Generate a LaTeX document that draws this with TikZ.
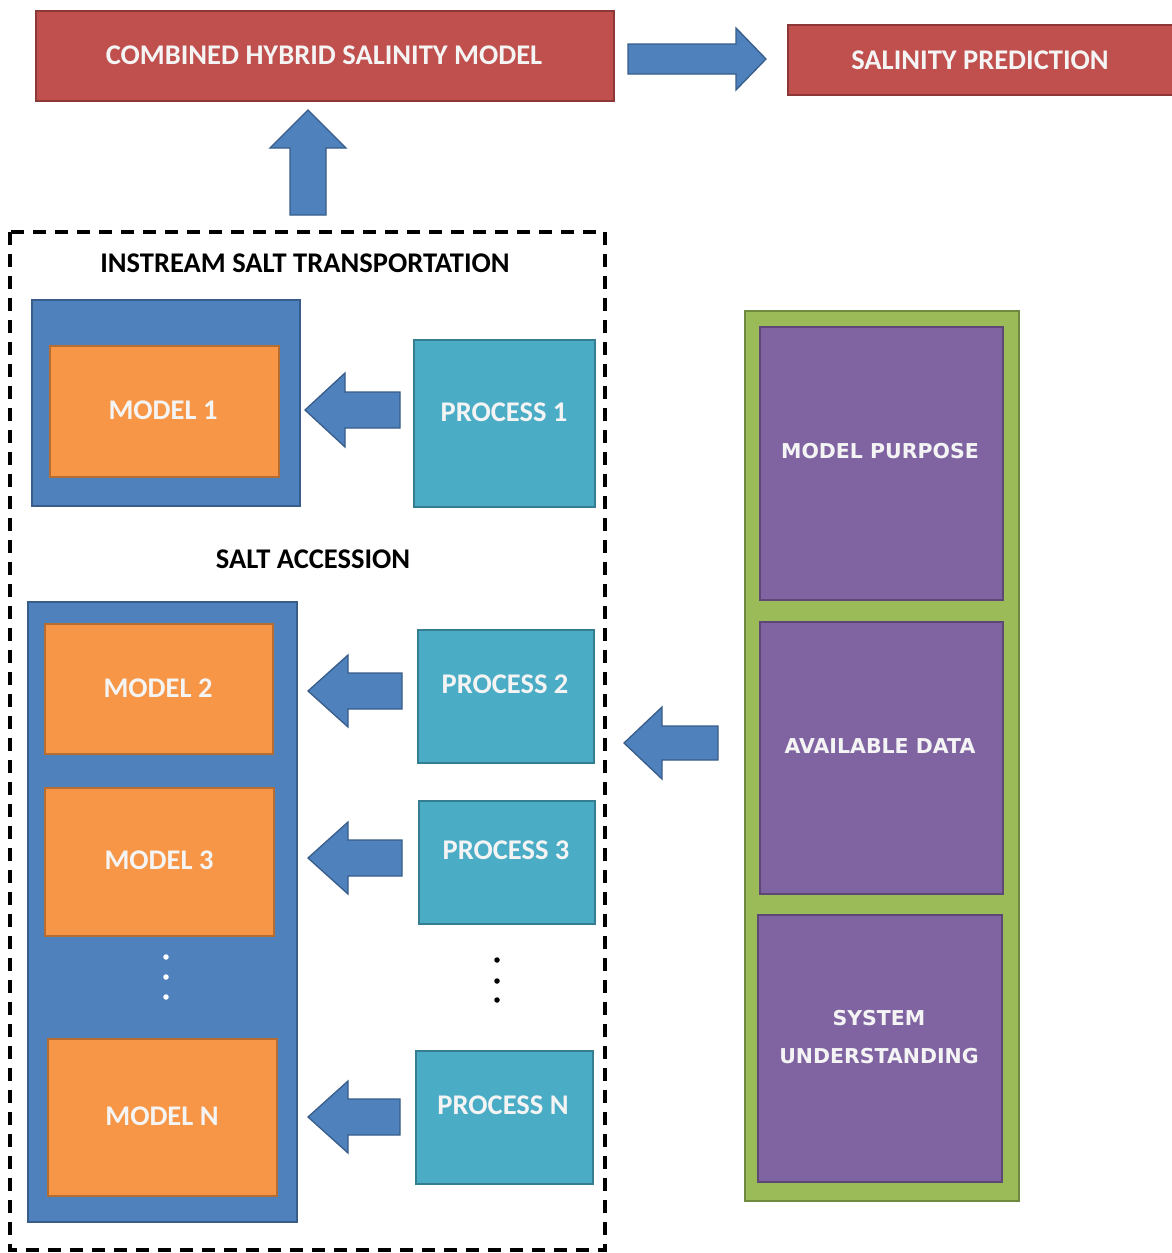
\documentclass[tikz,border=0pt]{standalone}
\usepackage{fontspec}
\setmainfont{Carlito}
\newfontfamily\purplefont{DejaVu Sans}
\definecolor{redf}{HTML}{C0504D}\definecolor{redd}{HTML}{8C3836}
\definecolor{bluef}{HTML}{4F81BD}\definecolor{blued}{HTML}{385D8A}
\definecolor{orf}{HTML}{F79646}\definecolor{ord}{HTML}{B66D31}
\definecolor{aqf}{HTML}{4BACC6}\definecolor{aqd}{HTML}{357D91}
\definecolor{grf}{HTML}{9BBB59}\definecolor{grd}{HTML}{71893F}
\definecolor{puf}{HTML}{8064A2}\definecolor{pud}{HTML}{5C4776}
\definecolor{txtw}{HTML}{F4F4F4}
\newcommand{\mybox}[6]{% style, name, x1,y1,x2,y2
  \node[#1, minimum width={(#5-#3)*1pt}, minimum height={(#6-#4)*1pt}] (#2) at ({(#3+#5)/2},{(#4+#6)/2}) {};}
\newcommand{\arrowleft}[6]{% tipx, y, basex, headhalf, shafthalf, tailx
  \draw[barrow] (#1,#2) -- (#3,#2-#4) -- (#3,#2-#5) -- (#6,#2-#5) -- (#6,#2+#5) -- (#3,#2+#5) -- (#3,#2+#4) -- cycle;}
\begin{document}
\begin{tikzpicture}[x=1pt,y=-1pt,
  bx/.style={rectangle, inner sep=0pt, line width=2.6pt},
  redbox/.style={bx, fill=redf, draw=redd},
  bluebox/.style={bx, fill=bluef, draw=blued},
  orbox/.style={bx, fill=orf, draw=ord},
  aqbox/.style={bx, fill=aqf, draw=aqd},
  grbox/.style={bx, fill=grf, draw=grd},
  pubox/.style={bx, fill=puf, draw=pud},
  wtxt/.style={text=txtw, font=\bfseries\fontsize{28.5}{32}\selectfont, align=center},
  btxt/.style={text=black, font=\bfseries\fontsize{28.5}{32}\selectfont},
  ptxt/.style={text=txtw, font=\purplefont\bfseries\fontsize{20.5}{38}\selectfont, align=center},
  barrow/.style={fill=bluef, draw=blued, line width=1.3pt, line join=miter},
  dot/.style={circle, inner sep=0pt, minimum size=5.5pt}
]
\useasboundingbox (0,0) rectangle (1172,1253);
\fill[white] (0,0) rectangle (1172,1253);

% top boxes
\mybox{redbox}{comb}{36}{11}{614}{101}
\node[wtxt] at (324,55) {COMBINED HYBRID SALINITY MODEL};
\mybox{redbox}{pred}{788}{25}{1185}{95}
\node[wtxt] at (980,60) {SALINITY PREDICTION};

% dashed frame
\draw[line width=3.5pt, dash pattern=on 13pt off 9pt] (10,232) rectangle (605,1250);
\node[btxt] (inst) at (305,263) {INSTREAM SALT TRANSPORTATION};
\node[btxt] (acc) at (313,559) {SALT ACCESSION};

% instream group
\mybox{bluebox}{blue1}{32}{300}{300}{506}
\mybox{orbox}{m1}{50}{346}{279}{477}
\node[wtxt] at (163,410) {MODEL 1};
\mybox{aqbox}{p1}{414}{340}{595}{507}
\node[wtxt] at (504,412) {PROCESS 1};

% accession group
\mybox{bluebox}{blue2}{28}{602}{297}{1222}
\mybox{orbox}{m2}{45}{624}{273}{754}
\node[wtxt] at (158,688) {MODEL 2};
\mybox{orbox}{m3}{45}{788}{274}{936}
\node[wtxt] at (159,860) {MODEL 3};
\mybox{orbox}{mn}{48}{1039}{277}{1196}
\node[wtxt] at (162,1116) {MODEL N};
\node[dot, fill=white] (wd1) at (166,957) {};
\node[dot, fill=white] (wd2) at (166,977) {};
\node[dot, fill=white] (wd3) at (166,997) {};

\mybox{aqbox}{p2}{418}{630}{594}{763}
\node[wtxt] at (505,684) {PROCESS 2};
\mybox{aqbox}{p3}{419}{801}{595}{924}
\node[wtxt] at (506,850) {PROCESS 3};
\mybox{aqbox}{pn}{416}{1051}{593}{1184}
\node[wtxt] at (503,1105) {PROCESS N};
\node[dot, fill=black] (bd1) at (497,960) {};
\node[dot, fill=black] (bd2) at (497,981) {};
\node[dot, fill=black] (bd3) at (497,1000) {};

% green group
\mybox{grbox}{green}{745}{311}{1019}{1201}
\mybox{pubox}{mp}{760}{327}{1003}{600}
\node[ptxt] at (880,451) {MODEL PURPOSE};
\mybox{pubox}{ad}{760}{622}{1003}{894}
\node[ptxt] at (880,746) {AVAILABLE DATA};
\mybox{pubox}{su}{758}{915}{1002}{1182}
\node[ptxt] at (879,1037) {SYSTEM\\UNDERSTANDING};

% block arrows
\arrowleft{305}{410}{345}{37}{18}{400}
\arrowleft{308}{691}{348}{36}{18}{402}
\arrowleft{308}{858}{348}{36}{18}{402}
\arrowleft{308}{1117}{348}{36}{18}{400}
\arrowleft{624}{743}{662}{36}{17}{718}
% right arrow
\draw[barrow] (766,59) -- (736,28) -- (736,44) -- (628,44) -- (628,74) -- (736,74) -- (736,90) -- cycle;
% up arrow
\draw[barrow] (308,110) -- (346,148) -- (326,148) -- (326,215) -- (290,215) -- (290,148) -- (270,148) -- cycle;
\end{tikzpicture}
\end{document}
